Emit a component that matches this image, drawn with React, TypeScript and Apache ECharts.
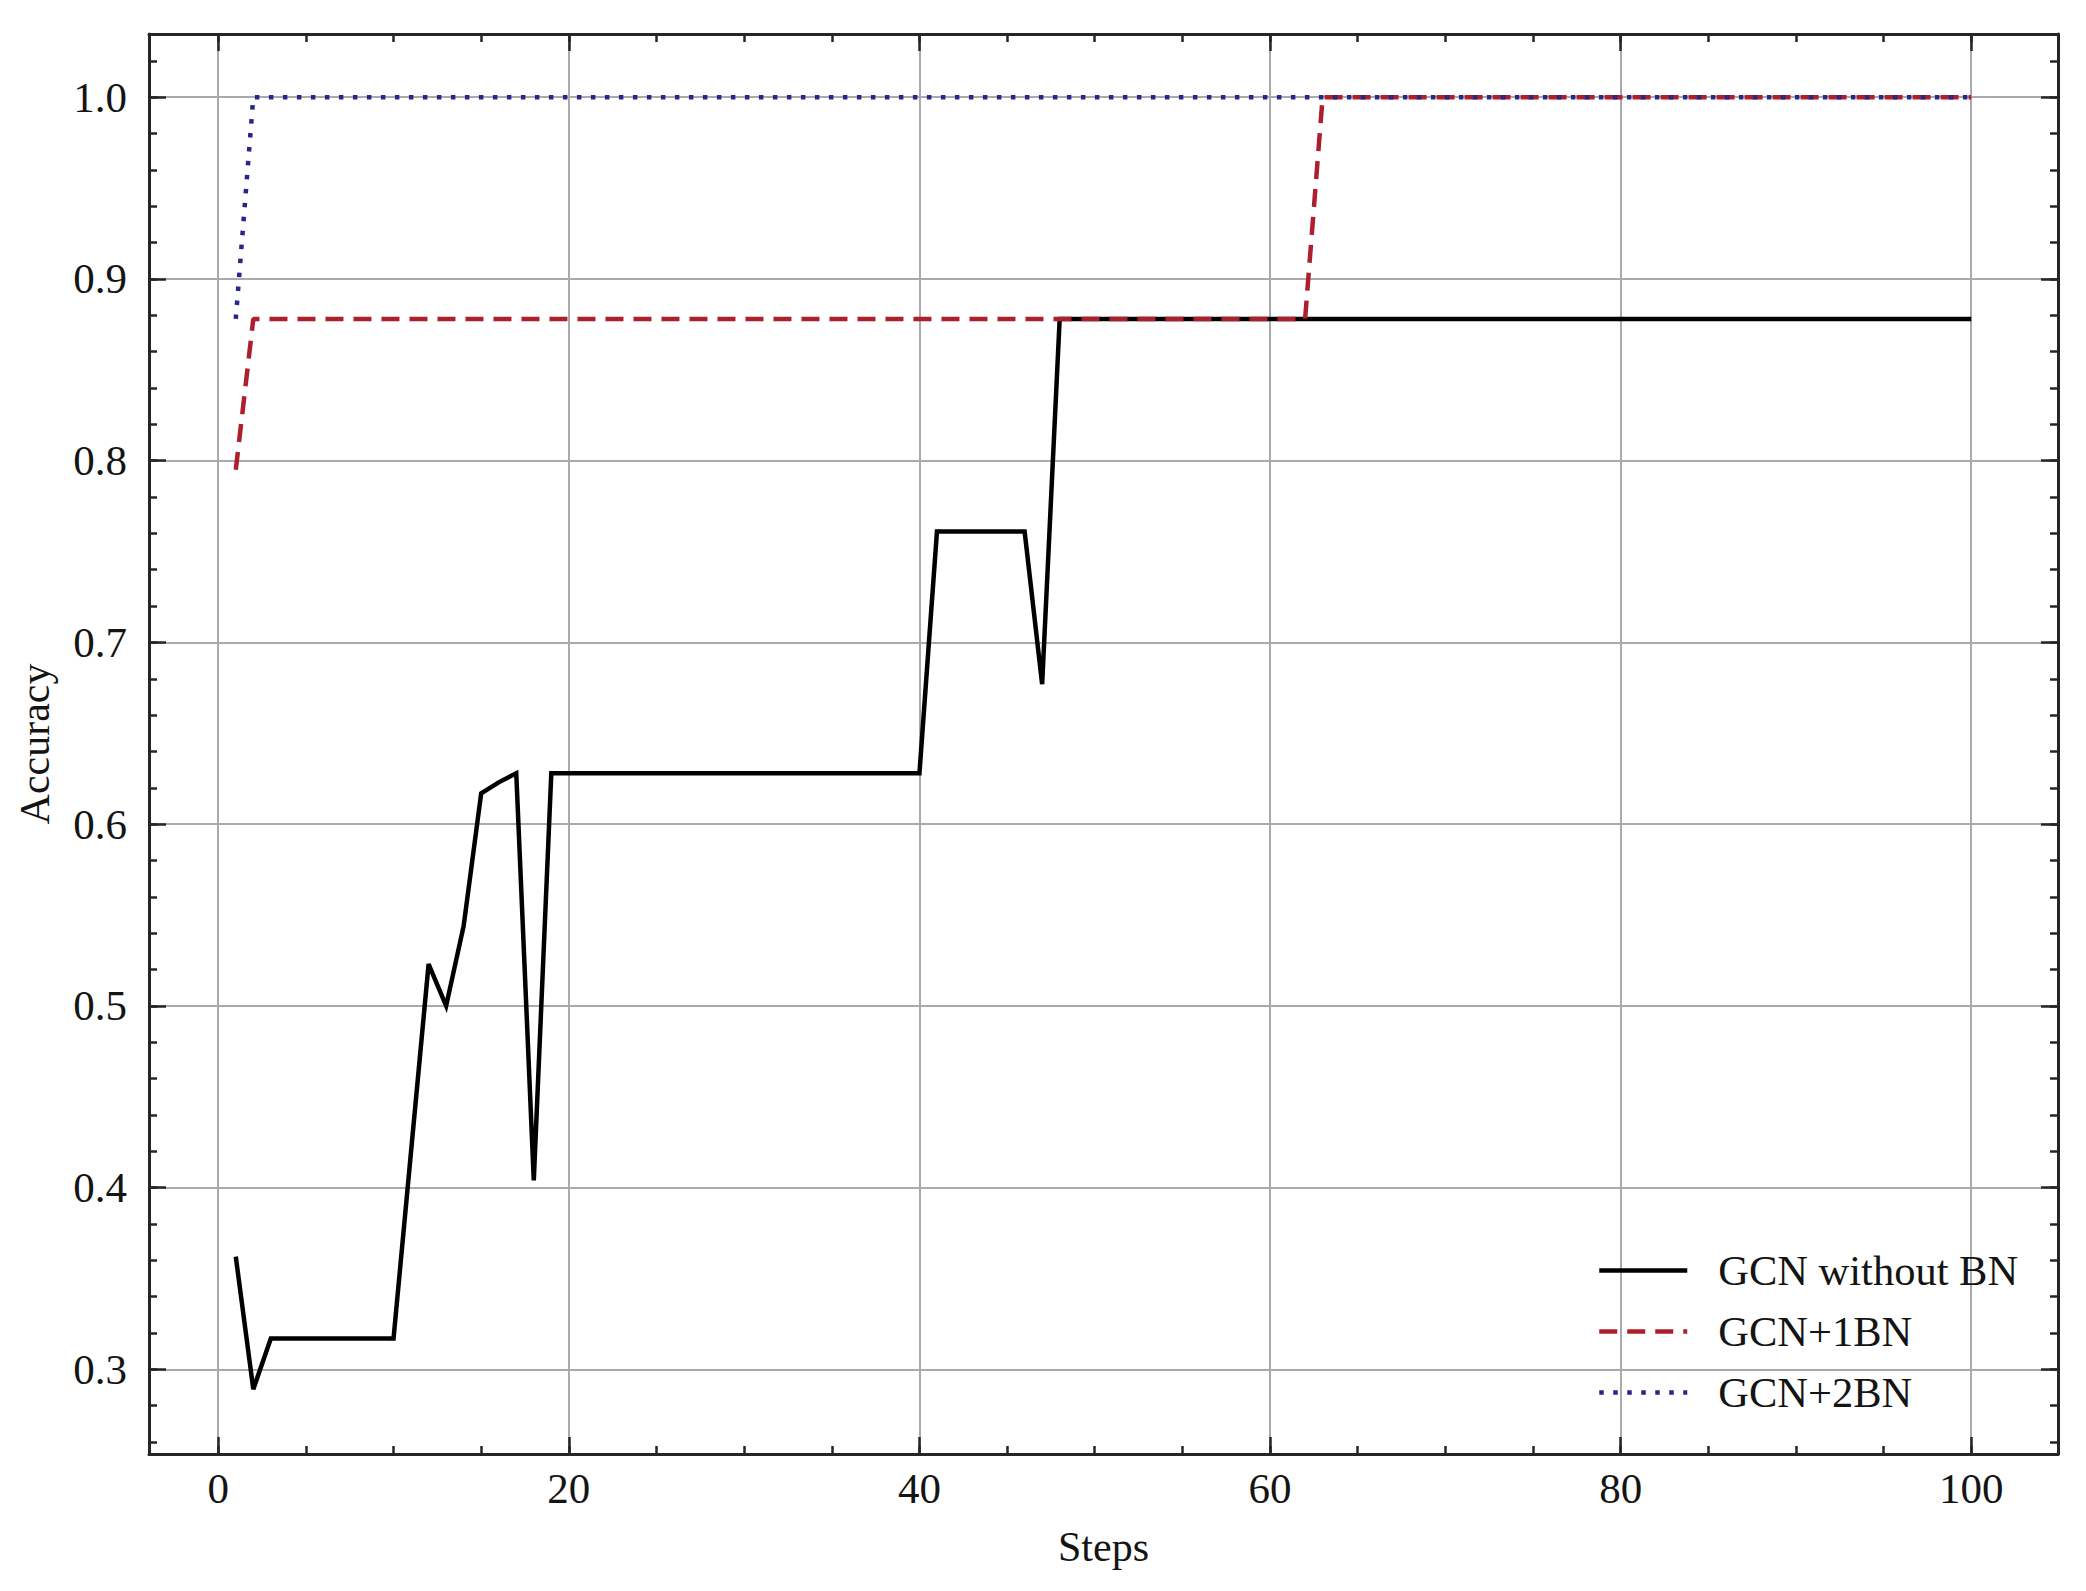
import React, { useEffect, useRef } from "react";
import * as echarts from "echarts";

// ---- data ----
const seriesNames = ["GCN without BN", "GCN+1BN", "GCN+2BN"];
const blackSteps = [1, 2, 3, 10, 11, 12, 13, 14, 15, 16, 17, 18, 19, 40, 41, 46, 47, 48, 100];
const blackAcc = [0.362, 0.289, 0.317, 0.317, 0.42, 0.523, 0.5, 0.544, 0.617, 0.623, 0.628, 0.404, 0.628, 0.628, 0.761, 0.761, 0.677, 0.878, 0.878];
const redSteps = [1, 2, 62, 63, 100];
const redAcc = [0.795, 0.878, 0.878, 1.0, 1.0];
const blueSteps = [1, 2, 100];
const blueAcc = [0.878, 1.0, 1.0];

const xRange = [-3.95, 104.95];
const yRange = [0.2534, 1.0348];
const xMajor = 20;
const xMinor = 5;
const yMajor = 0.1;
const yMinor = 0.02;

const FONT = "'Liberation Serif', 'Times New Roman', Times, serif";
const FRAME = "#262626";
const TEXT = "#141414";

const isMultiple = (v: number, step: number) => Math.abs(v / step - Math.round(v / step)) < 1e-6;

function makeX(position: "bottom" | "top", major: boolean, withLabels: boolean): any {
  return {
    type: "value",
    position,
    min: xRange[0],
    max: xRange[1],
    minInterval: major ? xMajor : xMinor,
    maxInterval: major ? xMajor : xMinor,
    axisLine: { show: major, onZero: false, lineStyle: { color: FRAME, width: 3 } },
    axisTick: { show: true, inside: true, length: major ? 17 : 8, lineStyle: { color: FRAME, width: 2.5 } },
    axisLabel: withLabels
      ? {
          show: true,
          fontSize: 43,
          fontFamily: FONT,
          color: TEXT,
          margin: 13,
          formatter: (v: number) => (isMultiple(v, xMajor) ? String(Math.round(v)) : ""),
        }
      : { show: false },
    splitLine:
      major && withLabels
        ? { show: true, showMinLine: false, showMaxLine: false, lineStyle: { color: "#aaaaaa", width: 2 } }
        : { show: false },
    ...(withLabels
      ? {
          name: "Steps",
          nameLocation: "middle",
          nameGap: 72,
          nameTextStyle: { fontSize: 42, fontFamily: FONT, color: TEXT },
        }
      : {}),
  };
}

function makeY(position: "left" | "right", major: boolean, withLabels: boolean): any {
  return {
    type: "value",
    position,
    min: yRange[0],
    max: yRange[1],
    minInterval: major ? yMajor : yMinor,
    maxInterval: major ? yMajor : yMinor,
    axisLine: { show: major, onZero: false, lineStyle: { color: FRAME, width: 3 } },
    axisTick: { show: true, inside: true, length: major ? 17 : 8, lineStyle: { color: FRAME, width: 2.5 } },
    axisLabel: withLabels
      ? {
          show: true,
          fontSize: 43,
          fontFamily: FONT,
          color: TEXT,
          margin: 22,
          formatter: (v: number) => (isMultiple(v, yMajor) ? v.toFixed(1) : ""),
        }
      : { show: false },
    splitLine:
      major && withLabels
        ? { show: true, showMinLine: false, showMaxLine: false, lineStyle: { color: "#aaaaaa", width: 2 } }
        : { show: false },
    ...(withLabels
      ? {
          name: "Accuracy",
          nameLocation: "middle",
          nameGap: 93,
          nameRotate: 90,
          nameTextStyle: { fontSize: 42, fontFamily: FONT, color: TEXT },
        }
      : {}),
  };
}

export default function App() {
  const ref = useRef<HTMLDivElement>(null);

  useEffect(() => {
    if (!ref.current) return;
    const chart = echarts.init(ref.current, undefined, { renderer: "svg" });
    const pairs = (xs: number[], ys: number[]) => xs.map((x, i) => [x, ys[i]]);

    chart.setOption({
      animation: false,
      backgroundColor: "#ffffff",
      grid: {
        left: 149,
        right: 28,
        top: 34,
        bottom: 137,
        containLabel: false,
        outerBoundsMode: "none",
      },
      xAxis: [
        makeX("bottom", true, true),
        makeX("bottom", false, false),
        makeX("top", true, false),
        makeX("top", false, false),
      ],
      yAxis: [
        makeY("left", true, true),
        makeY("left", false, false),
        makeY("right", true, false),
        makeY("right", false, false),
      ],
      legend: {
        show: true,
        orient: "vertical",
        left: 1597,
        top: 1249,
        padding: 0,
        itemWidth: 88,
        itemHeight: 2,
        itemGap: 18,
        selectedMode: false,
        data: seriesNames,
        itemStyle: { opacity: 0 },
        lineStyle: { width: 4.5 },
        textStyle: {
          fontSize: 42.5,
          fontFamily: FONT,
          color: TEXT,
          lineHeight: 41,
          padding: [0, 0, 0, 26],
        },
      },
      series: [
        {
          name: seriesNames[0],
          type: "line",
          xAxisIndex: 0,
          yAxisIndex: 0,
          symbol: "none",
          color: "#000000",
          lineStyle: { color: "#000000", width: 4.5, join: "miter" },
          data: pairs(blackSteps, blackAcc),
          z: 3,
        },
        {
          name: seriesNames[1],
          type: "line",
          xAxisIndex: 0,
          yAxisIndex: 0,
          symbol: "none",
          color: "#ad1f2c",
          lineStyle: { color: "#ad1f2c", width: 4.5, type: [18, 10] },
          data: pairs(redSteps, redAcc),
          z: 4,
        },
        {
          name: seriesNames[2],
          type: "line",
          xAxisIndex: 0,
          yAxisIndex: 0,
          symbol: "none",
          color: "#26268a",
          lineStyle: { color: "#26268a", width: 4.5, type: [4.5, 9.5] },
          data: pairs(blueSteps, blueAcc),
          z: 5,
        },
      ],
    });

    return () => chart.dispose();
  }, []);

  return (
    <div
      ref={ref}
      style={{ position: "fixed", left: 0, top: 0, width: 2086, height: 1591, background: "#fff" }}
    />
  );
}
